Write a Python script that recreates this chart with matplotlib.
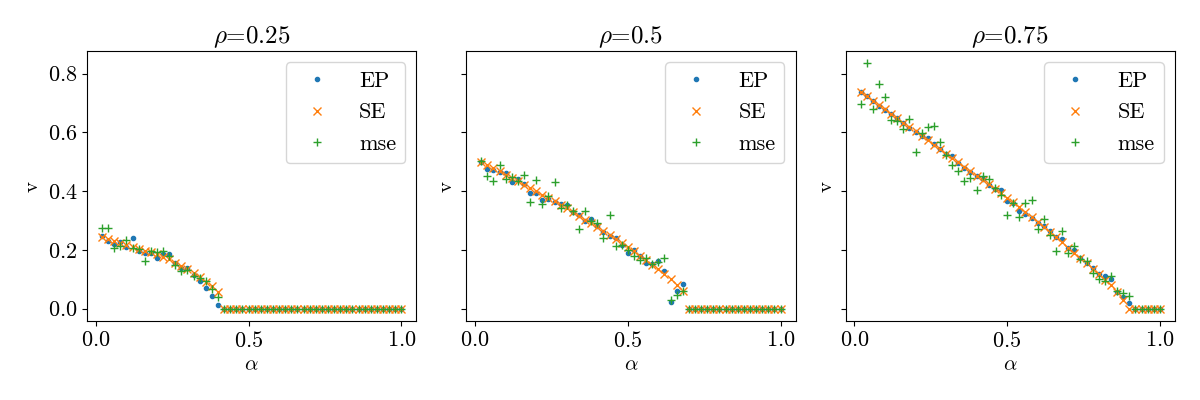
import matplotlib
matplotlib.use('Agg')
import matplotlib.pyplot as plt
import numpy as np

plt.rcParams['font.family'] = 'serif'
plt.rcParams['font.serif'] = ['cmr10']
plt.rcParams['mathtext.fontset'] = 'cm'
plt.rcParams['axes.formatter.use_mathtext'] = True

# alpha grid, 0.02 .. 1.00
alpha = np.round(np.arange(1, 51) * 0.02, 2)

rhos = [0.25, 0.5, 0.75]
xticks = [0.0, 0.5, 1.0]

# rho = 0.25  (zero from alpha = 0.42 on)
ep_025 = [0.248, 0.231, 0.221, 0.227, 0.210, 0.239, 0.195, 0.191, 0.189, 0.172,
          0.187, 0.187, 0.155, 0.137, 0.137, 0.115, 0.093, 0.071, 0.044, 0.014] + [0.0] * 30
se_025 = [0.245, 0.237, 0.230, 0.224, 0.217, 0.210, 0.204, 0.198, 0.192, 0.185,
          0.177, 0.168, 0.157, 0.146, 0.134, 0.121, 0.107, 0.092, 0.076, 0.056] + [0.0] * 30
mse_025 = [0.273, 0.273, 0.206, 0.212, 0.235, 0.206, 0.203, 0.161, 0.198, 0.193,
           0.198, 0.178, 0.150, 0.130, 0.132, 0.112, 0.104, 0.093, 0.067, 0.040] + [0.0] * 30

# rho = 0.5  (zero from alpha = 0.70 on)
ep_05 = [0.500, 0.476, 0.472, 0.466, 0.461, 0.432, 0.440, 0.424, 0.394, 0.392,
         0.370, 0.374, 0.362, 0.356, 0.352, 0.330, 0.320, 0.300, 0.305, 0.282,
         0.262, 0.246, 0.240, 0.218, 0.189, 0.201, 0.180, 0.157, 0.152, 0.161,
         0.130, 0.023, 0.061, 0.084] + [0.0] * 16
se_05 = [0.500, 0.489, 0.478, 0.467, 0.456, 0.445, 0.434, 0.422, 0.411, 0.399,
         0.388, 0.376, 0.365, 0.353, 0.341, 0.329, 0.316, 0.303, 0.290, 0.277,
         0.264, 0.250, 0.237, 0.223, 0.209, 0.195, 0.180, 0.165, 0.150, 0.134,
         0.117, 0.100, 0.081, 0.062] + [0.0] * 16
mse_05 = [0.504, 0.452, 0.435, 0.489, 0.441, 0.447, 0.436, 0.456, 0.364, 0.439,
          0.357, 0.382, 0.431, 0.342, 0.353, 0.331, 0.271, 0.331, 0.297, 0.291,
          0.240, 0.320, 0.212, 0.218, 0.201, 0.178, 0.165, 0.172, 0.153, 0.160,
          0.172, 0.028, 0.047, 0.062] + [0.0] * 16

# rho = 0.75  (zero from alpha = 0.90 / 0.92 on)
ep_075 = [0.737, 0.722, 0.705, 0.690, 0.676, 0.661, 0.648, 0.632, 0.615, 0.600,
          0.586, 0.580, 0.560, 0.542, 0.525, 0.518, 0.497, 0.480, 0.465, 0.452,
          0.440, 0.422, 0.408, 0.405, 0.365, 0.360, 0.331, 0.322, 0.310, 0.292,
          0.280, 0.266, 0.244, 0.237, 0.206, 0.200, 0.172, 0.155, 0.138, 0.117,
          0.112, 0.101, 0.058, 0.040, 0.021] + [0.0] * 5
se_075 = [0.737, 0.723, 0.708, 0.693, 0.678, 0.663, 0.648, 0.633, 0.618, 0.603,
          0.588, 0.573, 0.558, 0.543, 0.528, 0.513, 0.498, 0.483, 0.468, 0.453,
          0.438, 0.423, 0.408, 0.393, 0.378, 0.362, 0.346, 0.329, 0.312, 0.295,
          0.278, 0.261, 0.244, 0.226, 0.208, 0.190, 0.172, 0.154, 0.136, 0.118,
          0.099, 0.080, 0.057, 0.028, 0.0] + [0.0] * 5
mse_075 = [0.697, 0.835, 0.679, 0.765, 0.720, 0.643, 0.640, 0.611, 0.645, 0.534,
           0.597, 0.618, 0.622, 0.566, 0.524, 0.490, 0.467, 0.433, 0.444, 0.405,
           0.452, 0.441, 0.410, 0.388, 0.320, 0.359, 0.312, 0.361, 0.371, 0.271,
           0.305, 0.252, 0.195, 0.263, 0.191, 0.214, 0.169, 0.164, 0.123, 0.101,
           0.096, 0.112, 0.059, 0.055, 0.042] + [0.0] * 5

ep = [ep_025, ep_05, ep_075]
se = [se_025, se_05, se_075]
mse = [mse_025, mse_05, mse_075]

fig, axes = plt.subplots(1, 3, figsize=(12, 4), dpi=100, sharey=True)
fig.subplots_adjust(left=0.0725, right=0.979, top=0.8725, bottom=0.1975, wspace=0.152)

for i, ax in enumerate(axes):
	ax.plot(alpha, ep[i], '.', label='EP')
	ax.plot(alpha, se[i], 'x', label='SE')
	ax.plot(alpha, mse[i], '+', label='mse')
	ax.set_xticks(xticks)
	ax.set_title(r'$\rho$=' + str(rhos[i]), fontsize=18)
	ax.set_xlabel(r'$\alpha$', fontsize=15)
	ax.set_ylabel('v', fontsize=15)
	ax.tick_params(labelsize=16)
	ax.legend(fontsize=16, loc='upper right', handletextpad=0.9, labelspacing=0.55)

fig.savefig('out.png')
